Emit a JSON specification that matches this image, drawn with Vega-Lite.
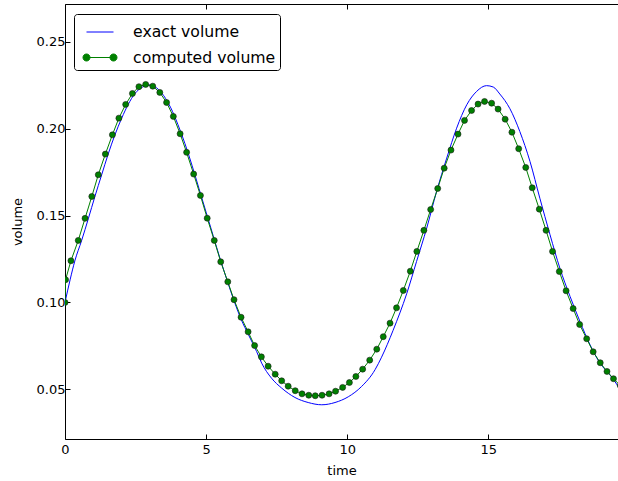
{
  "$schema": "https://vega.github.io/schema/vega-lite/v6.json",
  "width": 553,
  "height": 435,
  "autosize": {"type": "none"},
  "padding": {"left": 65, "top": 4, "right": 0, "bottom": 42},
  "background": "white",
  "config": {
    "view": {"stroke": null},
    "axis": {
      "labelFont": "DejaVu Sans", "titleFont": "DejaVu Sans",
      "labelFontSize": 13, "titleFontSize": 13, "titleFontWeight": "normal",
      "labelColor": "black", "titleColor": "black",
      "domainColor": "black", "tickColor": "black", "grid": false,
      "tickSize": -5, "domainWidth": 1, "tickWidth": 1
    }
  },
  "datasets": {
    "exact": [
      {"series": "exact volume", "t": 0, "v": 0.1000},
      {"series": "exact volume", "t": 0.18, "v": 0.1130},
      {"series": "exact volume", "t": 0.35, "v": 0.1240},
      {"series": "exact volume", "t": 0.59, "v": 0.1357},
      {"series": "exact volume", "t": 0.83, "v": 0.1484},
      {"series": "exact volume", "t": 1.06, "v": 0.1610},
      {"series": "exact volume", "t": 1.30, "v": 0.1735},
      {"series": "exact volume", "t": 1.53, "v": 0.1854},
      {"series": "exact volume", "t": 1.77, "v": 0.1965},
      {"series": "exact volume", "t": 2.01, "v": 0.2061},
      {"series": "exact volume", "t": 2.24, "v": 0.2140},
      {"series": "exact volume", "t": 2.48, "v": 0.2203},
      {"series": "exact volume", "t": 2.75, "v": 0.2240},
      {"series": "exact volume", "t": 3.0, "v": 0.2252},
      {"series": "exact volume", "t": 3.25, "v": 0.2235},
      {"series": "exact volume", "t": 3.5, "v": 0.2190},
      {"series": "exact volume", "t": 3.75, "v": 0.2120},
      {"series": "exact volume", "t": 4.0, "v": 0.2025},
      {"series": "exact volume", "t": 4.25, "v": 0.1915},
      {"series": "exact volume", "t": 4.5, "v": 0.1790},
      {"series": "exact volume", "t": 4.75, "v": 0.1655},
      {"series": "exact volume", "t": 5.0, "v": 0.1520},
      {"series": "exact volume", "t": 5.25, "v": 0.1385},
      {"series": "exact volume", "t": 5.5, "v": 0.1250},
      {"series": "exact volume", "t": 5.75, "v": 0.1125},
      {"series": "exact volume", "t": 6.0, "v": 0.1005},
      {"series": "exact volume", "t": 6.25, "v": 0.0900},
      {"series": "exact volume", "t": 6.5, "v": 0.0815},
      {"series": "exact volume", "t": 6.79, "v": 0.0718},
      {"series": "exact volume", "t": 6.97, "v": 0.0651},
      {"series": "exact volume", "t": 7.32, "v": 0.0564},
      {"series": "exact volume", "t": 7.68, "v": 0.0507},
      {"series": "exact volume", "t": 8.15, "v": 0.0453},
      {"series": "exact volume", "t": 8.62, "v": 0.0424},
      {"series": "exact volume", "t": 9.10, "v": 0.0411},
      {"series": "exact volume", "t": 9.57, "v": 0.0424},
      {"series": "exact volume", "t": 10.04, "v": 0.0457},
      {"series": "exact volume", "t": 10.51, "v": 0.0516},
      {"series": "exact volume", "t": 10.99, "v": 0.0613},
      {"series": "exact volume", "t": 11.22, "v": 0.0685},
      {"series": "exact volume", "t": 11.63, "v": 0.0840},
      {"series": "exact volume", "t": 12.11, "v": 0.1050},
      {"series": "exact volume", "t": 12.46, "v": 0.1236},
      {"series": "exact volume", "t": 12.82, "v": 0.1428},
      {"series": "exact volume", "t": 13.17, "v": 0.1639},
      {"series": "exact volume", "t": 13.53, "v": 0.1831},
      {"series": "exact volume", "t": 13.88, "v": 0.2003},
      {"series": "exact volume", "t": 14.24, "v": 0.2138},
      {"series": "exact volume", "t": 14.59, "v": 0.2215},
      {"series": "exact volume", "t": 14.94, "v": 0.2248},
      {"series": "exact volume", "t": 15.18, "v": 0.2240},
      {"series": "exact volume", "t": 15.41, "v": 0.2200},
      {"series": "exact volume", "t": 15.77, "v": 0.2115},
      {"series": "exact volume", "t": 16.12, "v": 0.1984},
      {"series": "exact volume", "t": 16.48, "v": 0.1812},
      {"series": "exact volume", "t": 16.83, "v": 0.1600},
      {"series": "exact volume", "t": 17.19, "v": 0.1390},
      {"series": "exact volume", "t": 17.54, "v": 0.1197},
      {"series": "exact volume", "t": 17.90, "v": 0.1035},
      {"series": "exact volume", "t": 18.25, "v": 0.0891},
      {"series": "exact volume", "t": 18.61, "v": 0.0756},
      {"series": "exact volume", "t": 18.96, "v": 0.0651},
      {"series": "exact volume", "t": 19.31, "v": 0.0584},
      {"series": "exact volume", "t": 19.62, "v": 0.0514}
    ],
    "computed": [
      {"series": "computed volume", "t": 0, "v": 0.1000},
      {"series": "computed volume", "t": 0.02, "v": 0.1131},
      {"series": "computed volume", "t": 0.21, "v": 0.1240},
      {"series": "computed volume", "t": 0.47, "v": 0.1357},
      {"series": "computed volume", "t": 0.71, "v": 0.1484},
      {"series": "computed volume", "t": 0.95, "v": 0.1610},
      {"series": "computed volume", "t": 1.18, "v": 0.1735},
      {"series": "computed volume", "t": 1.43, "v": 0.1854},
      {"series": "computed volume", "t": 1.68, "v": 0.1965},
      {"series": "computed volume", "t": 1.91, "v": 0.2061},
      {"series": "computed volume", "t": 2.15, "v": 0.2140},
      {"series": "computed volume", "t": 2.39, "v": 0.2203},
      {"series": "computed volume", "t": 2.62, "v": 0.2242},
      {"series": "computed volume", "t": 2.86, "v": 0.2255},
      {"series": "computed volume", "t": 3.11, "v": 0.2245},
      {"series": "computed volume", "t": 3.36, "v": 0.2209},
      {"series": "computed volume", "t": 3.60, "v": 0.2151},
      {"series": "computed volume", "t": 3.84, "v": 0.2071},
      {"series": "computed volume", "t": 4.08, "v": 0.1971},
      {"series": "computed volume", "t": 4.31, "v": 0.1864},
      {"series": "computed volume", "t": 4.56, "v": 0.1739},
      {"series": "computed volume", "t": 4.80, "v": 0.1616},
      {"series": "computed volume", "t": 5.04, "v": 0.1485},
      {"series": "computed volume", "t": 5.29, "v": 0.1357},
      {"series": "computed volume", "t": 5.52, "v": 0.1234},
      {"series": "computed volume", "t": 5.77, "v": 0.1119},
      {"series": "computed volume", "t": 5.99, "v": 0.1016},
      {"series": "computed volume", "t": 6.24, "v": 0.0915},
      {"series": "computed volume", "t": 6.49, "v": 0.0831},
      {"series": "computed volume", "t": 6.72, "v": 0.0752},
      {"series": "computed volume", "t": 6.96, "v": 0.0687},
      {"series": "computed volume", "t": 7.20, "v": 0.0633},
      {"series": "computed volume", "t": 7.45, "v": 0.0587},
      {"series": "computed volume", "t": 7.68, "v": 0.0549},
      {"series": "computed volume", "t": 7.91, "v": 0.0518},
      {"series": "computed volume", "t": 8.16, "v": 0.0492},
      {"series": "computed volume", "t": 8.40, "v": 0.0474},
      {"series": "computed volume", "t": 8.64, "v": 0.0466},
      {"series": "computed volume", "t": 8.87, "v": 0.0463},
      {"series": "computed volume", "t": 9.11, "v": 0.0466},
      {"series": "computed volume", "t": 9.36, "v": 0.0474},
      {"series": "computed volume", "t": 9.59, "v": 0.0489},
      {"series": "computed volume", "t": 9.84, "v": 0.0511},
      {"series": "computed volume", "t": 10.08, "v": 0.0539},
      {"series": "computed volume", "t": 10.31, "v": 0.0574},
      {"series": "computed volume", "t": 10.55, "v": 0.0616},
      {"series": "computed volume", "t": 10.80, "v": 0.0668},
      {"series": "computed volume", "t": 11.05, "v": 0.0731},
      {"series": "computed volume", "t": 11.28, "v": 0.0803},
      {"series": "computed volume", "t": 11.52, "v": 0.0881},
      {"series": "computed volume", "t": 11.75, "v": 0.0969},
      {"series": "computed volume", "t": 11.99, "v": 0.1069},
      {"series": "computed volume", "t": 12.24, "v": 0.1180},
      {"series": "computed volume", "t": 12.47, "v": 0.1294},
      {"series": "computed volume", "t": 12.72, "v": 0.1415},
      {"series": "computed volume", "t": 12.96, "v": 0.1535},
      {"series": "computed volume", "t": 13.21, "v": 0.1656},
      {"series": "computed volume", "t": 13.44, "v": 0.1773},
      {"series": "computed volume", "t": 13.68, "v": 0.1877},
      {"series": "computed volume", "t": 13.93, "v": 0.1969},
      {"series": "computed volume", "t": 14.16, "v": 0.2048},
      {"series": "computed volume", "t": 14.41, "v": 0.2105},
      {"series": "computed volume", "t": 14.64, "v": 0.2142},
      {"series": "computed volume", "t": 14.87, "v": 0.2157},
      {"series": "computed volume", "t": 15.12, "v": 0.2147},
      {"series": "computed volume", "t": 15.35, "v": 0.2113},
      {"series": "computed volume", "t": 15.60, "v": 0.2055},
      {"series": "computed volume", "t": 15.84, "v": 0.1980},
      {"series": "computed volume", "t": 16.08, "v": 0.1885},
      {"series": "computed volume", "t": 16.33, "v": 0.1777},
      {"series": "computed volume", "t": 16.56, "v": 0.1660},
      {"series": "computed volume", "t": 16.81, "v": 0.1537},
      {"series": "computed volume", "t": 17.05, "v": 0.1415},
      {"series": "computed volume", "t": 17.28, "v": 0.1294},
      {"series": "computed volume", "t": 17.52, "v": 0.1178},
      {"series": "computed volume", "t": 17.76, "v": 0.1067},
      {"series": "computed volume", "t": 18.01, "v": 0.0965},
      {"series": "computed volume", "t": 18.24, "v": 0.0873},
      {"series": "computed volume", "t": 18.49, "v": 0.0791},
      {"series": "computed volume", "t": 18.72, "v": 0.0716},
      {"series": "computed volume", "t": 18.97, "v": 0.0653},
      {"series": "computed volume", "t": 19.21, "v": 0.0603},
      {"series": "computed volume", "t": 19.44, "v": 0.0561},
      {"series": "computed volume", "t": 19.68, "v": 0.0522}
    ]
  },
  "encoding": {
    "y": {"field": "v", "type": "quantitative",
      "scale": {"domain": [0.0214, 0.2718], "nice": false, "zero": false},
      "axis": {"values": [0.05, 0.1, 0.15, 0.2, 0.25], "format": ".2f", "title": "volume", "labelPadding": 5, "titlePadding": 12}},
    "color": {"field": "series", "type": "nominal",
      "scale": {"domain": ["exact volume", "computed volume"], "range": ["#0000ff", "#008000"]},
      "legend": {
        "title": null, "orient": "none", "legendX": 9, "legendY": 10,
        "fillColor": "white", "strokeColor": "black", "cornerRadius": 3,
        "padding": 4, "symbolOffset": 8, "labelOffset": 19, "rowPadding": 3.5,
        "labelFont": "DejaVu Sans", "labelFontSize": 15.7, "labelColor": "black",
        "symbolSize": 729, "symbolStrokeWidth": 1,
        "encode": {"symbols": {"update": {
          "shape": {"signal": "datum.value === 'computed volume' ? 'M-1,0H1M-0.74,0C-0.74,0.144,-0.856,0.26,-1,0.26C-1.144,0.26,-1.26,0.144,-1.26,0C-1.26,-0.144,-1.144,-0.26,-1,-0.26C-0.856,-0.26,-0.74,-0.144,-0.74,0ZM1.26,0C1.26,0.144,1.144,0.26,1,0.26C0.856,0.26,0.74,0.144,0.74,0C0.74,-0.144,0.856,-0.26,1,-0.26C1.144,-0.26,1.26,-0.144,1.26,0Z' : 'M-1,0H1'"},
          "fill": {"signal": "datum.value === 'computed volume' ? '#008000' : 'transparent'"},
          "stroke": {"signal": "datum.value === 'computed volume' ? '#008000' : '#0000ff'"}
        }}}
      }}
  },
  "resolve": {"axis": {"x": "independent"}},
  "layer": [
    {
      "data": {"name": "exact"},
      "mark": {"type": "line", "interpolate": "monotone", "strokeWidth": 1, "clip": true},
      "encoding": {
        "x": {"field": "t", "type": "quantitative",
          "scale": {"domain": [0, 19.6], "nice": false, "zero": false},
          "axis": {"orient": "bottom", "values": [0, 5, 10, 15], "title": "time", "labelPadding": 9, "titlePadding": 8, "labelFlush": false}}
      }
    },
    {
      "data": {"name": "computed"},
      "mark": {"type": "line", "strokeWidth": 1, "clip": true},
      "encoding": {
        "x": {"field": "t", "type": "quantitative", "axis": null}
      }
    },
    {
      "data": {"name": "computed"},
      "mark": {"type": "point", "filled": true, "size": 36, "opacity": 1, "stroke": "#1a1a1a", "strokeWidth": 0.6, "clip": true},
      "encoding": {
        "x": {"field": "t", "type": "quantitative",
          "axis": {"orient": "top", "values": [0, 5, 10, 15], "labels": false, "title": null}}
      }
    }
  ]
}
